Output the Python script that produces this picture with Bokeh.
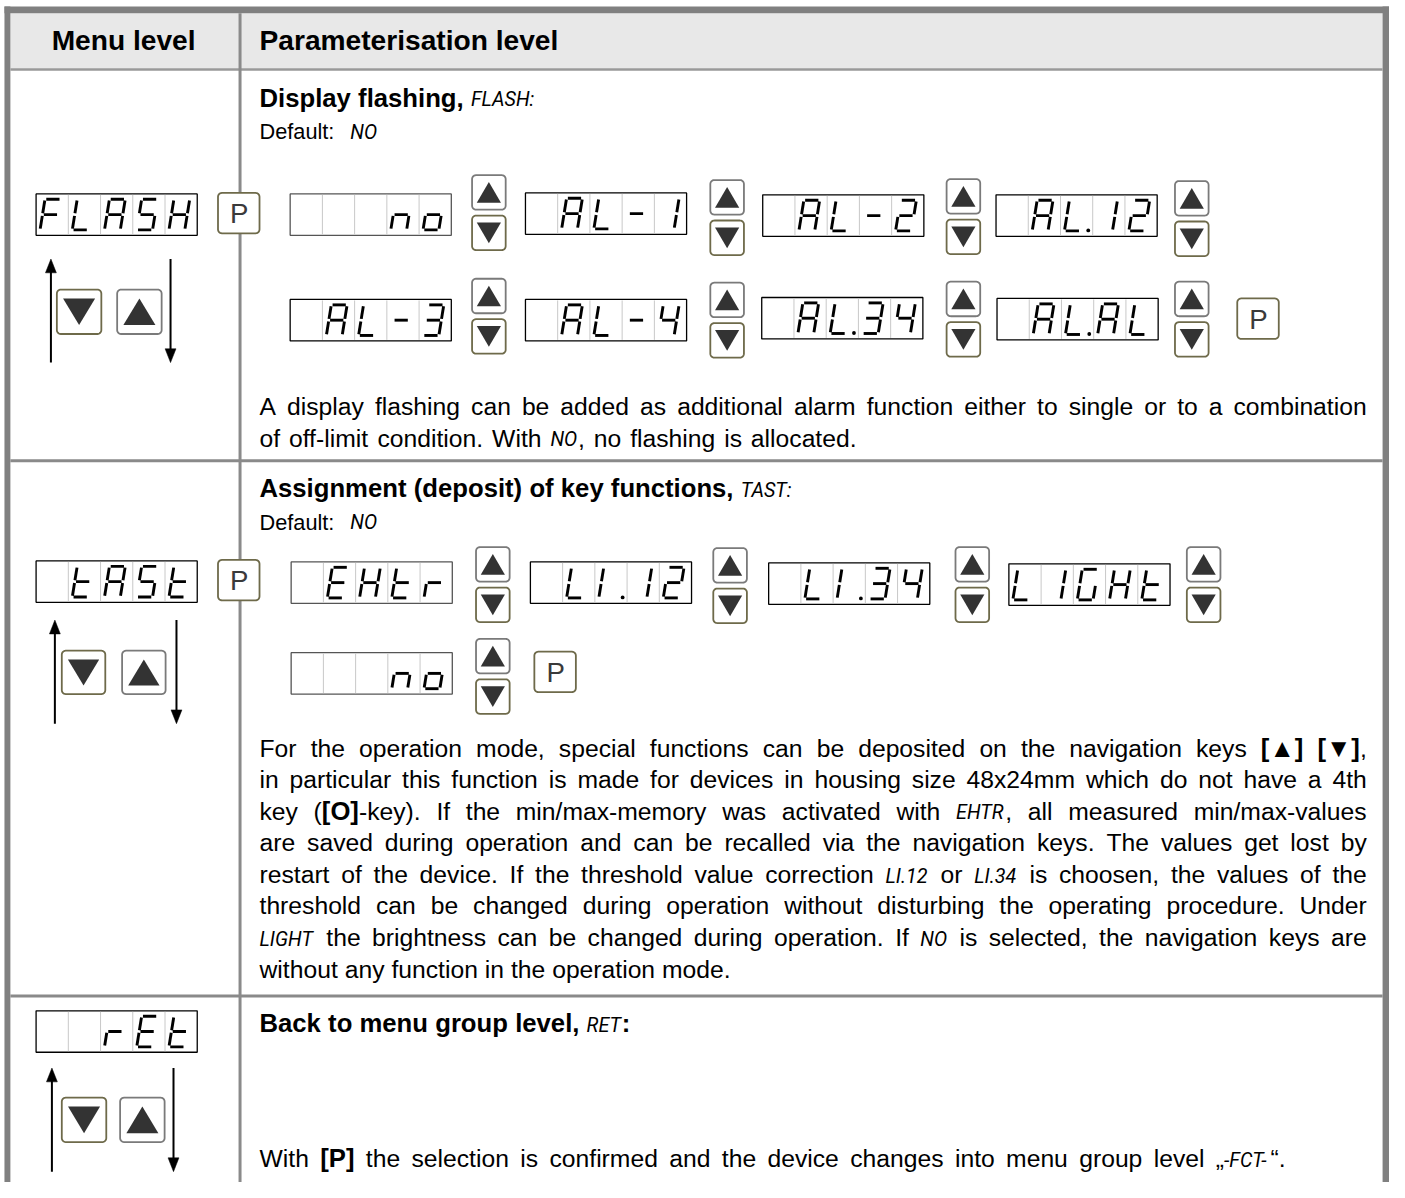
import re
import math
from bokeh.plotting import figure
from bokeh.models import Range1d
from bokeh.embed import file_html
from bokeh.resources import INLINE
from bokeh.core.properties import value

# ------------------------------------------------------------------ content
header_labels = ["Menu level", "Parameterisation level"]

menu_displays = ["FLASH", "tASt", "rEt"]

row_titles = [
    "Display flashing, {l:FLASH:}",
    "Assignment (deposit) of key functions, {l:TAST:}",
    "Back to menu group level, {l:RET}:",
]
row_defaults = ["Default: {l:NO}", "Default: {l:NO}"]

displays_row1 = ["no", "AL-1", "AL-2", "AL.12", "AL-3", "AL-4", "AL.34", "AL.AL"]
displays_row2 = ["EHtr", "LI.12", "LI.34", "L1GHt", "no"]

para_row1 = [
    "A display flashing can be added as additional alarm function either to single or to a combination",
    "of off-limit condition. With {l:NO}, no flashing is allocated.",
]
para_row2 = [
    "For the operation mode, special functions can be deposited on the navigation keys {b:[▲]} {b:[▼]},",
    "in particular this function is made for devices in housing size 48x24mm which do not have a 4th",
    "key ({b:[O]}-key). If the min/max-memory was activated with {l:EHTR}, all measured min/max-values",
    "are saved during operation and can be recalled via the navigation keys. The values get lost by",
    "restart of the device. If the threshold value correction {l:LI.12} or {l:LI.34} is choosen, the values of the",
    "threshold can be changed during operation without disturbing the operating procedure. Under",
    "{l:LIGHT} the brightness can be changed during operation. If {l:NO} is selected, the navigation keys are",
    "without any function in the operation mode.",
]
para_row3 = [
    "With {b:[P]} the selection is confirmed and the device changes into menu group level „{l:-FCT-}“.",
]

# ------------------------------------------------------------------ styles
W_PX, H_PX = 1389, 1182           # figure size in page pixels
W_REF, H_REF = 1405, 1198         # drawing coordinates
SCALE = (W_PX / W_REF + H_PX / H_REF) / 2
FONT = "Liberation Sans"
LCD_FONT = "Roboto"
FS = {"r": 25, "b": 26, "l": 20, "d": 22}
HEADER_FS = 28.5
BASE_SHIFT = 0.33                 # alphabetic baseline correction (em)
GRID_GRAY = "#8a8a8a"
HEADER_BG = "#e8e8e8"
UP_BORDER = "#7a7a7a"
DOWN_BORDER = "#6e6a4a"
TRI_FILL = "#333333"


def px(fs):
    return f"{fs * SCALE:.2f}px"


def ty(baseline, fs):
    return baseline - BASE_SHIFT * fs


# Arial / Helvetica advance widths (1/1000 em), chars 32..126
_REG = ([278, 278, 355, 556, 556, 889, 667, 191, 333, 333, 389, 584, 278, 333, 278, 278]
        + [556] * 10 + [278, 278, 584, 584, 584, 556, 1015]
        + [667, 667, 722, 722, 667, 611, 778, 722, 278, 500, 667, 556, 833, 722, 778, 667, 778,
           722, 667, 611, 722, 667, 944, 667, 667, 611]
        + [278, 278, 278, 469, 556, 333]
        + [556, 556, 500, 556, 556, 278, 556, 556, 222, 222, 500, 222, 833, 556, 556, 556, 556,
           333, 500, 278, 556, 500, 722, 500, 500, 500]
        + [334, 260, 334, 584])
_BOLD = ([278, 333, 474, 556, 556, 889, 722, 238, 333, 333, 389, 584, 278, 333, 278, 278]
         + [556] * 10 + [333, 333, 584, 584, 584, 611, 975]
         + [722, 722, 722, 722, 667, 611, 778, 722, 278, 556, 722, 611, 833, 722, 778, 667, 778,
            722, 667, 611, 722, 667, 944, 667, 667, 611]
         + [333, 278, 333, 584, 556, 333]
         + [556, 611, 556, 611, 556, 333, 611, 611, 278, 278, 556, 278, 889, 611, 611, 611, 611,
            389, 556, 333, 611, 556, 778, 556, 556, 500]
         + [389, 280, 389, 584])
REG = {chr(32 + i): w for i, w in enumerate(_REG)}
BOLD = {chr(32 + i): w for i, w in enumerate(_BOLD)}
for t in (REG, BOLD):
    t.update({"▲": 987, "▼": 987, "„": 333, "“": 333})
# Roboto (approx.) for the LCD-style words
LCD = {"A": 652, "C": 651, "E": 568, "F": 553, "G": 681, "H": 713, "I": 272, "L": 539,
       "N": 713, "O": 688, "R": 616, "S": 594, "T": 597, "X": 627, ".": 263, ":": 243,
       "-": 276, " ": 248}
LCD.update({str(d): 562 for d in range(10)})
TABLES = {"r": REG, "b": BOLD, "l": LCD, "d": REG}


def piece_width(style, txt):
    tab = TABLES[style]
    return sum(tab.get(c, 556) for c in txt) * FS[style] / 1000.0


def parse_word(word, base):
    pieces, pos = [], 0
    for m in re.finditer(r"\{(b|l):([^}]*)\}", word):
        if m.start() > pos:
            pieces.append((base, word[pos:m.start()]))
        pieces.append((m.group(1), m.group(2)))
        pos = m.end()
    if pos < len(word):
        pieces.append((base, word[pos:]))
    return pieces


texts = {k: dict(x=[], y=[], text=[]) for k in ("r", "b", "l", "d")}

X_LEFT, X_RIGHT = 262, 1382


def layout_line(line, baseline, base="r", right=None, gap=None):
    words = [parse_word(w, base) for w in line.split(" ")]
    wws = [sum(piece_width(s, t) for s, t in w) for w in words]
    if right is not None and len(words) > 1:
        gap = (right - X_LEFT - sum(wws)) / (len(words) - 1)
    elif gap is None:
        gap = piece_width(base, " ")
    x = X_LEFT
    for w, ww in zip(words, wws):
        for s, t in w:
            texts[s]["x"].append(x)
            texts[s]["y"].append(ty(baseline, FS[s]))
            texts[s]["text"].append(t)
            x += piece_width(s, t)
        x += gap


# ------------------------------------------------------------------ figure
p = figure(width=W_PX, height=H_PX, x_range=Range1d(0, W_REF), y_range=Range1d(H_REF, 0),
           x_axis_type=None, y_axis_type=None, toolbar_location=None, tools="",
           output_backend="svg", min_border=0)
p.outline_line_color = None
p.background_fill_color = "white"
p.border_fill_color = "white"

# table frame
p.quad(left=[10], right=[1398], top=[13], bottom=[69], fill_color=HEADER_BG, line_color=None)
p.quad(left=[4, 4, 1398], right=[1405, 10, 1405], top=[6, 6, 6], bottom=[13, 1198, 1198],
       fill_color="#808080", line_color=None)
p.segment(x0=[10], y0=[70], x1=[1398], y1=[70], line_color="#999999", line_width=2.5)
p.segment(x0=[10, 10], y0=[466.5, 1009], x1=[1398, 1398], y1=[466.5, 1009],
          line_color=GRID_GRAY, line_width=3)
p.segment(x0=[242.3], y0=[13], x1=[242.3], y1=[1198], line_color=GRID_GRAY, line_width=3)

# header text
p.text(x=[124.5], y=[ty(50, HEADER_FS)], text=[header_labels[0]], text_font=value(FONT),
       text_font_style="bold", text_font_size=px(HEADER_FS), text_align="center",
       text_baseline="alphabetic", text_color="black")
p.text(x=[262], y=[ty(50, HEADER_FS)], text=[header_labels[1]], text_font=value(FONT),
       text_font_style="bold", text_font_size=px(HEADER_FS), text_align="left",
       text_baseline="alphabetic", text_color="black")

# ------------------------------------------------------------------ seven segment displays
SEG = {"0": "abcdef", "1": "bc", "2": "abdeg", "3": "abcdg", "4": "bcfg", "5": "acdfg",
       "A": "abcefg", "E": "adefg", "F": "aefg", "G": "acdef", "H": "bcefg", "I": "ef",
       "L": "def", "S": "acdfg", "t": "defg", "n": "ceg", "o": "cdeg", "r": "eg", "-": "g", " ": ""}

DW, DH, NCELL = 163, 42, 5
seg = dict(x0=[], y0=[], x1=[], y1=[])
div = dict(x0=[], y0=[], x1=[], y1=[])
dps = dict(x=[], y=[])
boxes = dict(left=[], right=[], top=[], bottom=[], color=[])


def cells_of(s):
    cells = []
    for ch in s:
        if ch == "." and cells:
            cells[-1][1] = True
        else:
            cells.append([ch, False])
    return [[" ", False]] * (NCELL - len(cells)) + cells


def draw_display(x0, y0, s, border="black"):
    cw = DW / NCELL
    boxes["left"].append(x0); boxes["right"].append(x0 + DW)
    boxes["top"].append(y0); boxes["bottom"].append(y0 + DH); boxes["color"].append(border)
    for k in range(1, NCELL):
        div["x0"].append(x0 + k * cw); div["x1"].append(x0 + k * cw)
        div["y0"].append(y0 + 1); div["y1"].append(y0 + DH - 1)
    w, h, sl, g = 16.0, 31.0, 5.0, 1.3
    defs = {"a": ((g, h), (w - g, h)), "b": ((w, h - g), (w, h / 2 + g)),
            "c": ((w, h / 2 - g), (w, g)), "d": ((g, 0), (w - g, 0)),
            "e": ((0, h / 2 - g), (0, g)), "f": ((0, h - g), (0, h / 2 + g)),
            "g": ((g, h / 2), (w - g, h / 2))}
    for i, (ch, dp) in enumerate(cells_of(s)):
        gx = x0 + i * cw + 4.0
        gb = y0 + DH - 5.5
        for sname in SEG.get(ch, ""):
            (u0, v0), (u1, v1) = defs[sname]
            seg["x0"].append(gx + u0 + sl * v0 / h); seg["y0"].append(gb - v0)
            seg["x1"].append(gx + u1 + sl * v1 / h); seg["y1"].append(gb - v1)
        if dp:
            dps["x"].append(x0 + (i + 1) * cw - 4.5); dps["y"].append(gb - 0.5)


# ------------------------------------------------------------------ buttons & arrows
btn = dict(xs=[], ys=[], color=[])
tris = dict(xs=[], ys=[])
pbtn_txt = dict(x=[], y=[], text=[])
shafts = dict(x0=[], y0=[], x1=[], y1=[])
heads = dict(xs=[], ys=[])
P_FS = 28


def rounded(x0, y0, w, h, r, n=6):
    xs, ys = [], []
    for cx, cy, a0, a1 in [(x0 + w - r, y0 + r, -90, 0), (x0 + w - r, y0 + h - r, 0, 90),
                           (x0 + r, y0 + h - r, 90, 180), (x0 + r, y0 + r, 180, 270)]:
        for k in range(n + 1):
            a = math.radians(a0 + (a1 - a0) * k / n)
            xs.append(cx + r * math.cos(a)); ys.append(cy + r * math.sin(a))
    return xs, ys


def key(x0, y0, w, h, up):
    xs, ys = rounded(x0, y0, w, h, 4)
    btn["xs"].append(xs); btn["ys"].append(ys); btn["color"].append(UP_BORDER if up else DOWN_BORDER)
    mx, my = w * 0.14, h * 0.2
    if up:
        tris["xs"].append([x0 + mx, x0 + w - mx, x0 + w / 2])
        tris["ys"].append([y0 + h - my, y0 + h - my, y0 + my])
    else:
        tris["xs"].append([x0 + mx, x0 + w - mx, x0 + w / 2])
        tris["ys"].append([y0 + my, y0 + my, y0 + h - my])


def pkey(x0, y0, w=42, h=41):
    xs, ys = rounded(x0, y0, w, h, 4)
    btn["xs"].append(xs); btn["ys"].append(ys); btn["color"].append(DOWN_BORDER)
    pbtn_txt["x"].append(x0 + w / 2 + 0.5)
    pbtn_txt["y"].append(ty(y0 + h / 2 + 0.358 * P_FS, P_FS))
    pbtn_txt["text"].append("P")


def pair(x0, y0):
    key(x0, y0, 34, 35, True)
    key(x0, y0 + 41, 34, 35, False)


def arrows(xu, xd, ytop, ybot):
    hl, hw = 14, 5.5
    shafts["x0"] += [xu, xd]; shafts["x1"] += [xu, xd]
    shafts["y0"] += [ybot, ytop]; shafts["y1"] += [ytop + hl - 2, ybot - hl + 2]
    heads["xs"].append([xu - hw, xu + hw, xu]); heads["ys"].append([ytop + hl, ytop + hl, ytop])
    heads["xs"].append([xd - hw, xd + hw, xd]); heads["ys"].append([ybot - hl, ybot - hl, ybot])


# left column (menu level)
left_layout = [
    dict(disp=(36, 196), P=(220, 195), arr=(51, 172, 262, 367), keys=((57, 293), (118, 293)), ks=45),
    dict(disp=(36, 568), P=(220, 567), arr=(55, 178, 628, 733), keys=((62, 659), (123, 659)), ks=44),
    dict(disp=(36, 1024), P=None, arr=(52, 175, 1082, 1187), keys=((62, 1112), (121, 1112)), ks=45),
]
for lab, L in zip(menu_displays, left_layout):
    draw_display(L["disp"][0], L["disp"][1], lab)
    if L["P"]:
        pkey(*L["P"])
    arrows(*L["arr"])
    key(L["keys"][0][0], L["keys"][0][1], L["ks"], L["ks"], False)
    key(L["keys"][1][0], L["keys"][1][1], L["ks"], L["ks"], True)

# parameter displays
pos_row1 = [(293, 196), (531, 195), (771, 197), (1007, 197), (293, 303), (531, 303), (770, 301), (1008, 302)]
pairs_row1 = [(477, 177), (718, 182), (957, 181), (1188, 183), (477, 282), (718, 286), (957, 285), (1188, 285)]
pos_row2 = [(294, 569), (536, 569), (777, 570), (1020, 571), (294, 661)]
pairs_row2 = [(481, 554), (721, 555), (966, 554), (1200, 554), (481, 647)]

for lab, (x, y) in zip(displays_row1, pos_row1):
    draw_display(x, y, lab, "#555555" if lab == "no" else "black")
for x, y in pairs_row1:
    pair(x, y)
pkey(1251, 302)
for lab, (x, y) in zip(displays_row2, pos_row2):
    draw_display(x, y, lab, "#555555" if lab in ("no", "EHtr") else "black")
for x, y in pairs_row2:
    pair(x, y)
pkey(540, 660)

p.quad(left="left", right="right", top="top", bottom="bottom", source=boxes,
       fill_color="white", line_color="color", line_width=1.3)
p.segment(x0="x0", y0="y0", x1="x1", y1="y1", source=div, line_color="#c8c8c8", line_width=1)
p.segment(x0="x0", y0="y0", x1="x1", y1="y1", source=seg, line_color="black", line_width=2.9)
p.scatter(x="x", y="y", source=dps, size=3.8, marker="circle", fill_color="black", line_color=None)

p.patches(xs="xs", ys="ys", source=btn, fill_color="white", line_color="color", line_width=1.8)
p.patches(xs="xs", ys="ys", source=tris, fill_color=TRI_FILL, line_color=None)
p.text(x="x", y="y", text="text", source=pbtn_txt, text_font=value(FONT), text_font_size=px(P_FS),
       text_align="center", text_baseline="alphabetic", text_color="#3a3a3a")
p.segment(x0="x0", y0="y0", x1="x1", y1="y1", source=shafts, line_color="black", line_width=2)
p.patches(xs="xs", ys="ys", source=heads, fill_color="black", line_color="black", line_width=0.5)

# ------------------------------------------------------------------ body text
title_y = [107, 503, 1045]
default_y = [140, 536]
for t, y in zip(row_titles, title_y):
    layout_line(t, y, base="b")
for t, y in zip(row_defaults, default_y):
    layout_line(t, y, base="d", gap=16)
for i, t in enumerate(para_row1):
    layout_line(t, 420 + 32 * i, right=(X_RIGHT if i == 0 else 866))
for i, t in enumerate(para_row2):
    layout_line(t, 766 + 32 * i, right=(X_RIGHT if i < len(para_row2) - 1 else None))
for t in para_row3:
    layout_line(t, 1182, right=1300)

p.text(x="x", y="y", text="text", source=texts["r"], text_font=value(FONT),
       text_font_size=px(FS["r"]), text_baseline="alphabetic", text_align="left", text_color="black")
p.text(x="x", y="y", text="text", source=texts["d"], text_font=value(FONT),
       text_font_size=px(FS["d"]), text_baseline="alphabetic", text_align="left", text_color="black")
p.text(x="x", y="y", text="text", source=texts["b"], text_font=value(FONT), text_font_style="bold",
       text_font_size=px(FS["b"]), text_baseline="alphabetic", text_align="left", text_color="black")
p.text(x="x", y="y", text="text", source=texts["l"], text_font=value(LCD_FONT), text_font_style="italic",
       text_font_size=px(FS["l"]), text_baseline="alphabetic", text_align="left", text_color="black")

open("out.html", "w").write(file_html(p, INLINE))
